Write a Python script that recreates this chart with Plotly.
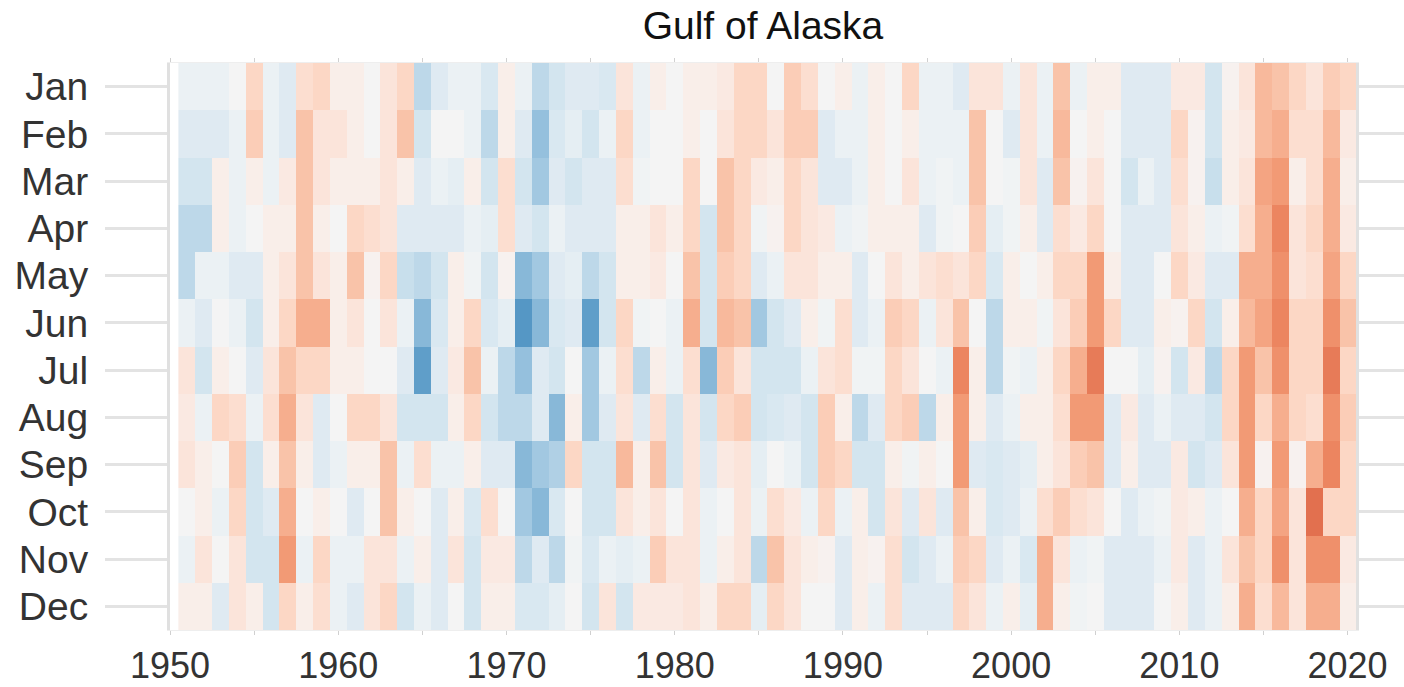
import plotly.graph_objects as go

# ---------------- data ----------------
years = list(range(1951, 2021))
months = ["Jan", "Feb", "Mar", "Apr", "May", "Jun",
          "Jul", "Aug", "Sep", "Oct", "Nov", "Dec"]

# monthly anomaly (colour-level units, 1951..2020)
jan = [-1, -1, -1, 0, 3, -1, -2, 2.5, 3, 1,
       1, 0, 2, 3, -4, -2, -1, -1, -2.5, 1,
       -1, -4, -3, -2, -2, -2.5, 2, -1, 1, 0,
       1, 1, 1.5, 3, 3, 0, 3.5, 2.5, 0, 1,
       -1, 1, 0, 3, -1, -1, -2, 2, 2, -1,
       2, -1, 4, -1, 1, 1, -2, -2, -2, 1.5,
       1.5, -3, 0.5, 2, 4.5, 4, 3, 2, 3.5, 3]
feb = [-2, -2, -2, -1, 3.5, -1, -2, 4, 2, 2,
       1, 0, 2, 4, -3, 0, 0, -1, -4, 1,
       -2, -5.5, -2.5, -1.5, -3, -1, 3, -1, 0, 0,
       1, 0, 2, 3, 3, 2, 3.5, 3.5, -2, -1,
       -1, 1, 0, 1, -1, -1, -1, 4, 0, -2,
       2, -1, 4.5, 0, 1, 0, -2, -2, -2, 3,
       0.5, -3, 1, 1.5, 4.5, 5, 2.5, 2.5, 4.5, 1.5]
mar = [-3, -3, 1, -1, 1, -1, 1.5, 4, 2, 1,
       1, 1, 2, 1, -2, -1, -1.5, 1, -3, 2.5,
       -3, -5, -2, -3, -2, -2, 2.5, -0.5, 0, 0,
       3, 0, 4, 3, 1.5, 1, 3, 2, -2, -2,
       -1, 1, 0, 2, -1, -0.5, -1, 4, 0, -0.5,
       2, -2, 4, 0.5, 2, 0, -3, -1, -2, 2.5,
       0.5, -3.5, 1, 2, 5.5, 6, 1, 2.5, 5, 1]
apr = [-4, -4, 1, -1, 0, 1, 1, 4, 1, 0,
       3, 2.5, 2, -2, -2, -2, -2, -1, -1.5, 2.5,
       -2, -3, -1, -2, -2, -2, 1, 1, 2, 1,
       3, -3, 4, 3, -0.5, 0.5, 3, 2, 1.5, -1,
       -0.5, 1, 1, 1, -2, -0.5, 0, 3.5, -1.5, -0.5,
       1, -2, 2.5, 1.5, 3, 0, -2, -2, -2, 2,
       1, -1, -0.5, 2.5, 5, 7, 2, 3, 5, 1.5]
may = [-4, -1, -1, -2, -2, 1, 2, 4, 2, 1,
       4, 0.5, 3, -3.5, -4, -3, 1, -0.5, -3, 0.5,
       -6, -5, -2, -1.5, -4, -3, 1, 1, 1.5, 0,
       4, -3, 3.5, 3, -2, -1, 2, 2, 1, 1,
       -2, 0, 2, 1, 2, 2.5, 2, 3, -2.5, 1,
       0, 1, 3, 3, 6, 1, -2, -2, 0, 3,
       1.5, -2, -2, 5, 5, 6.5, 2, 2.5, 5.5, 3]
jun = [-1, -2, 0, -1, -3, 1, 3, 5, 5, 1,
       2, 0, 2, -1, -6, -2.5, 1, 3, -2.5, -1.5,
       -7.5, -6, -2.5, -2, -7, -3, 3, -0.5, 0, -1,
       5, -3, 4.5, 4, -5, -3, -2, 1, -0.5, 2.5,
       -2, -1, 3.5, 3, -1, 2, 4, 0, -4, 1,
       1, -0.5, 2, 3.5, 6, 3, -2, -2, 1, 0.5,
       3, -3, 1, 4.5, 5.5, 7, 3, 3, 6.5, 4]
jul = [2, -3, 1, 0, -2, 2, 4, 3, 3, 1,
       1, 0, 0, -2, -7, -2, 1.5, 4, -1, -4,
       -5.5, -2, -3, 0, -5, -1, 2.5, -4, 1, -1,
       2.5, -6, 3.5, 2, -3, -3, -3, -1, 2, 2.5,
       -0.5, -0.5, 3, 2, 0, -1, 7, 1, -4, -0.5,
       -1, 1, 3, 5, 7.5, 0, 0, -1.5, 0.5, -3,
       1.5, -4, 3, 6, 4, 6.5, 3, 3, 7.5, 3]
aug = [1.5, -1, 3, 2.5, -1, 2.5, 5, 2, -2, 0,
       3, 3, 2, -3, -3, -3, 1, 3, -3, -4,
       -4, -2, -6, 1, -5, -2, 2, -2, 2.5, -3,
       2, -3, 3, 3.5, -3, -2.5, -2, -3, 3.5, 1,
       -4, -2, 3, 3.5, -4, 1, 6, 1, -2, -1,
       1, 1, 2.5, 6, 6, -2, 1.5, -2, -1, -2,
       -2, -3, 3, 6, 3, 5, 3, 2.5, 6.5, 3.5]
sep = [2, 1, 0, 3.5, -3, 1, 4, 1, -2, -1,
       1, 1, 4, -1, 2.5, -1, -1, 1, -2, -2,
       -6, -5, -4.5, 3, -3, -3, 4.5, 1, 4, -3,
       2, -2, 1.5, 2, -1.5, 0, -1, -3, 3.5, 3,
       -3, -3, 1, -0.5, 1, 0, 6, -2, -2.5, -2,
       -1.5, 1, 2, 3.5, 4, -2, 1, -2, -2, 1.5,
       -3, -2, 2, 6, 0.5, 6, 0.5, 5, 7, 3]
oct_ = [0, 1, -1, 3, -3, -2, 5, 0, 1, 0,
        -2, 0, 4, 1, 0, -2, 1, -2.5, 2.5, 0,
        -5, -6, -2.5, 0, -3, -3, 2, 1, 2, 0,
        2, -1, 0, 2, -1, 2.5, 1.5, -1, 3, -1,
        1, -3, 2, -2, 2, -2, 4, 1, -2.5, -2,
        -1, 2.5, 3.5, 2.5, 2, 0, -2, -1, -0.5, 1.5,
        1, -1, 0, 5, 3, 5.5, 2, 8, 3, 3]
nov = [-1, 2, 0, 2, -3, -3, 6, -1, 3, -1,
       -1, 2, 2, -1, 1, -2, 2, -3, 1.5, 1.5,
       -4, -2, -4, -0.5, -2.5, -1, -1.5, -1, 3.5, 2,
       2, -1, 1, 2, -4, 4, 2, 1, 0.5, -2,
       1, 0.5, 2.5, -3, -2, -1, 3.5, 3, -2, -1,
       -2.5, 5, 2, -1, -0.5, -2, -2, -2, -1, 1.5,
       -2, -1, 2, 4, 3, 6.5, 2, 6.5, 6.5, 1.5]
dec = [1, 1, -2, 2, 1, -3, 3, 1, 2.5, -1,
       -2, 2, 3, -3, -1, -2, 0, -3, 1, 1,
       -2.5, -2.5, -1.5, 0, -3, 2, -3, 1.5, 1.5, 1.5,
       2, 1, 3, 3, -1.5, 3, 2, 0, 0, -2,
       1, -1, 2.5, -2, -2, -2, 3, 2, -1, 1,
       -1.5, 5, 1, -0.5, 0, -2, -2, -2, 0, 1,
       -2, -1, 1, 5, 2.5, 4.5, 2, 5, 5, 1]

x_ticks = list(range(1950, 2021, 5))
x_ticktext = [str(t) if t % 10 == 0 else "" for t in x_ticks]

# ---------------- style ----------------
levels = list(range(-8, 9))
level_colors = ["#4a8fc1", "#5f9ec9", "#88b8d8", "#a2c8e1", "#bdd8e9",
                "#d3e5ef", "#dfeaf2", "#ebf1f4", "#f4f4f4", "#f9eee9",
                "#fbe4da", "#fcd7c5", "#f9c3a9", "#f6ae8e", "#f29a75",
                "#ec8560", "#e2704f"]
colorscale = [[(lv + 8) / 16, c] for lv, c in zip(levels, level_colors)]

z = [jan, feb, mar, apr, may, jun, jul, aug, sep, oct_, nov, dec]

fig = go.Figure(go.Heatmap(
    x=years, y=list(range(12)), z=z,
    zmin=-8, zmax=8, colorscale=colorscale, showscale=False,
))

fig.update_layout(
    width=1404, height=687,
    margin=dict(l=170, r=48, t=63, b=57, autoexpand=False),
    paper_bgcolor="white", plot_bgcolor="white",
    font=dict(family="Liberation Sans, Arial, sans-serif", color="#333333"),
    title=dict(text="Gulf of Alaska", x=0.5, xref="paper", xanchor="center",
               y=1 - 25 / 687, yref="container", yanchor="middle",
               font=dict(size=39, color="#111111")),
)

fig.update_xaxes(
    range=[1950, 2020.5], tickvals=x_ticks, ticktext=x_ticktext,
    ticks="outside", ticklen=4, tickwidth=1, tickcolor="#d0d0d0",
    showgrid=False, zeroline=False, automargin=False,
    showline=True, linecolor="#eeeeee", linewidth=1, mirror="ticks",
    tickfont=dict(size=36, color="#333333"), ticklabelstandoff=0,
)
fig.update_yaxes(
    range=[11.5, -0.5], tickvals=list(range(12)), ticktext=months,
    ticks="outside", ticklen=62, tickwidth=3, tickcolor="#e3e3e3",
    showgrid=False, zeroline=False, automargin=False,
    showline=True, linecolor="#e0e0e0", linewidth=3, mirror="ticks",
    tickfont=dict(size=39, color="#333333"), ticklabelstandoff=9,
)

fig.write_html("out.html",
               config={"displayModeBar": False},
               post_script="document.body.style.margin='0';"
                           "document.body.style.overflow='hidden';")
